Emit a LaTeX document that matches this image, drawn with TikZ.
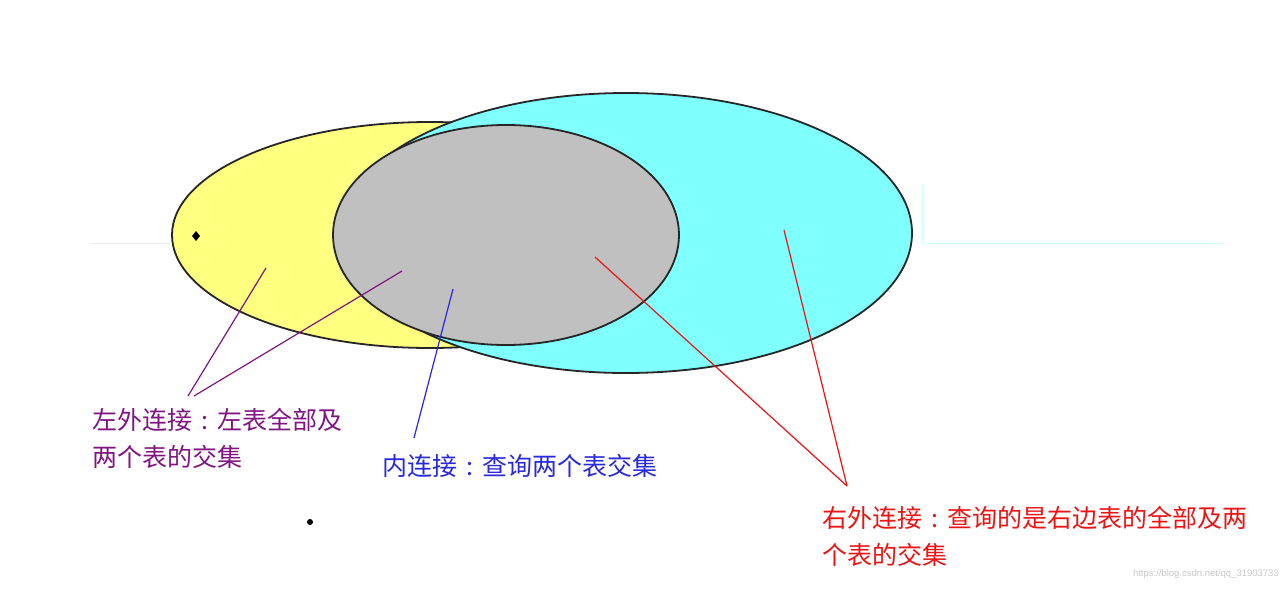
\documentclass[tikz,border=0pt]{standalone}
\usepackage{fontspec}
\newfontfamily\cjk{Noto Sans CJK SC}
\setsansfont{Liberation Sans}
\usetikzlibrary{shapes.geometric}
\definecolor{yel}{RGB}{255,255,128}
\definecolor{cya}{RGB}{128,255,255}
\definecolor{gry}{RGB}{192,192,192}
\definecolor{pur}{RGB}{128,20,128}
\definecolor{blu}{RGB}{40,40,220}
\definecolor{rd}{RGB}{235,20,20}
\definecolor{wm}{RGB}{200,200,200}
\newcommand\fwcolon{\makebox[1em][c]{:}}
\tikzset{
  setshape/.style={ellipse, draw=black!85, line width=1.8pt, inner sep=0pt},
  lbl/.style={font=\cjk\fontsize{25}{37}\selectfont, inner sep=0pt, align=left},
  pointer/.style={line width=1.2pt}
}
\begin{document}
\begin{tikzpicture}[x=1pt,y=-1pt]
\useasboundingbox[fill=white] (0,0) rectangle (1288,589);
% faint screen artifacts
\draw[black!8, line width=0.8pt] (90,243) -- (170,243);
\draw[cya!40, line width=1pt] (922,243) -- (1225,243);
\draw[cya!40, line width=0.8pt] (922,185) -- (922,243);
\fill[black] (310,522) circle (3pt);
% sets
\node[setshape, fill=yel, minimum width=516pt, minimum height=226pt] (left) at (430,235) {};
\node[setshape, fill=cya, minimum width=572pt, minimum height=280pt] (right) at (626,233) {};
\node[setshape, fill=gry, minimum width=346pt, minimum height=220pt] (inner) at (506,235) {};
\fill[black] (196,231) -- (200,236) -- (196,241) -- (192,236) -- cycle;
% labels
\node[lbl, text=pur, anchor=west] (ltxt) at (92,438) {左外连接\fwcolon 左表全部及\\两个表的交集};
\node[lbl, text=blu, anchor=west] (itxt) at (382,466) {内连接\fwcolon 查询两个表交集};
\node[lbl, text=rd, anchor=west] (rtxt) at (822,536) {右外连接\fwcolon 查询的是右边表的全部及两\\个表的交集};
\node[font=\sffamily\fontsize{9.5}{11}\selectfont, text=wm, anchor=east, inner sep=0pt] (wmark) at (1279,574) {https://blog.csdn.net/qq\_31903733};
% pointer coordinates
\coordinate (lp1) at (266,268);
\coordinate (lp2) at (402,271);
\coordinate (lt1) at (188,396);
\coordinate (lt2) at (194,396);
\coordinate (ip) at (453,289);
\coordinate (it) at (414,438);
\coordinate (rp1) at (595,257);
\coordinate (rp2) at (784,230);
\coordinate (rt) at (847,486);
% pointers
\draw[pointer, pur] (lp1) -- (lt1);
\draw[pointer, pur] (lp2) -- (lt2);
\draw[pointer, blu] (ip) -- (it);
\draw[pointer, rd] (rp1) -- (rt);
\draw[pointer, rd] (rp2) -- (rt);
\end{tikzpicture}
\end{document}
